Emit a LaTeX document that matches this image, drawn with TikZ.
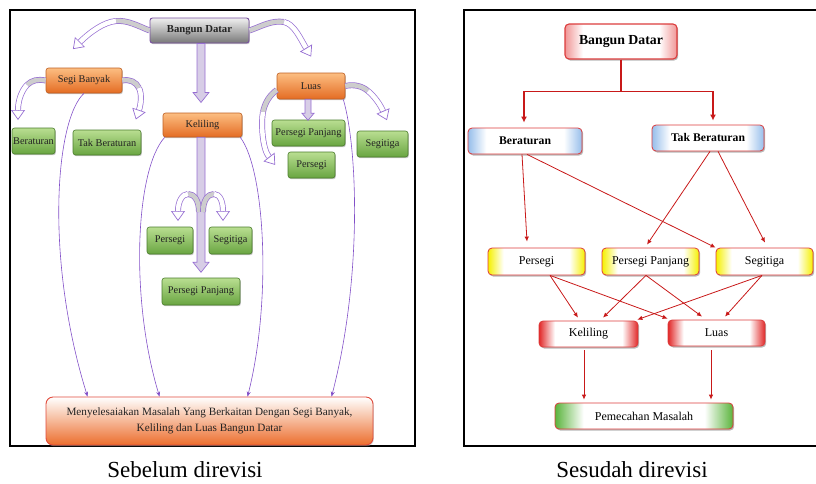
\documentclass[tikz,border=0pt]{standalone}
\usepackage{fontspec}
\setmainfont{Liberation Serif}
\usetikzlibrary{arrows.meta,calc,shadows}

\definecolor{vio}{RGB}{130,80,200}
\definecolor{ribc}{RGB}{150,110,210}
\definecolor{ribgc}{RGB}{205,205,205}
\definecolor{blkf}{RGB}{215,205,230}
\definecolor{greyT}{RGB}{240,240,240}
\definecolor{greyB}{RGB}{120,120,120}
\definecolor{bdbor}{RGB}{120,80,160}
\definecolor{orT}{RGB}{252,190,130}
\definecolor{orB}{RGB}{228,108,35}
\definecolor{orD}{RGB}{190,95,35}
\definecolor{grT}{RGB}{185,222,145}
\definecolor{grB}{RGB}{105,165,65}
\definecolor{grD}{RGB}{75,125,45}
\definecolor{botB}{RGB}{236,110,45}
\definecolor{botD}{RGB}{225,75,60}
\definecolor{rred}{RGB}{200,25,25}
\definecolor{rbor}{RGB}{220,60,60}
\definecolor{edY}{RGB}{245,240,0}
\definecolor{edR}{RGB}{225,40,40}
\definecolor{edB}{RGB}{150,190,235}
\definecolor{edG}{RGB}{90,180,60}
\definecolor{edP}{RGB}{240,150,150}
\definecolor{txt}{RGB}{35,35,35}

\pgfdeclarehorizontalshading{edgeY}{100bp}{color(0bp)=(edY); color(25bp)=(edY); color(33bp)=(white); color(67bp)=(white); color(75bp)=(edY); color(100bp)=(edY)}
\pgfdeclarehorizontalshading{edgeR}{100bp}{color(0bp)=(edR); color(25bp)=(edR); color(33bp)=(white); color(67bp)=(white); color(75bp)=(edR); color(100bp)=(edR)}
\pgfdeclarehorizontalshading{edgeB}{100bp}{color(0bp)=(edB); color(25bp)=(edB); color(33bp)=(white); color(67bp)=(white); color(75bp)=(edB); color(100bp)=(edB)}
\pgfdeclarehorizontalshading{edgeG}{100bp}{color(0bp)=(edG); color(25bp)=(edG); color(33bp)=(white); color(67bp)=(white); color(75bp)=(edG); color(100bp)=(edG)}
\pgfdeclarehorizontalshading{edgeP}{100bp}{color(0bp)=(edP); color(25bp)=(edP); color(33bp)=(white); color(67bp)=(white); color(75bp)=(edP); color(100bp)=(edP)}

\tikzset{
  frame/.style={draw=black, line width=1.6pt},
  lbox/.style={rounded corners=2.5pt, inner sep=0pt, align=center, text=txt,
    font=\fontsize{10.3}{12}\selectfont,
    drop shadow={shadow xshift=0.8pt, shadow yshift=-1.2pt, fill=black!45}},
  gbox/.style={lbox, draw=grD, line width=0.6pt, top color=grT, bottom color=grB},
  obox/.style={lbox, draw=orD, line width=0.6pt, top color=orT, bottom color=orB},
  greybox/.style={lbox, draw=bdbor, line width=0.9pt, top color=greyT, bottom color=greyB,
    font=\fontsize{10.7}{12}\selectfont\bfseries},
  botbox/.style={rounded corners=7pt, inner sep=0pt, align=center, text=txt,
    draw=botD, line width=0.9pt, top color=white, bottom color=botB,
    font=\fontsize{11.2}{16}\selectfont,
    drop shadow={shadow xshift=0.8pt, shadow yshift=-1.2pt, fill=black!35}},
  rbox/.style={rounded corners=4pt, inner sep=0pt, draw=rbor, line width=0.8pt,
    font=\fontsize{12}{14}\selectfont,
    drop shadow={shadow xshift=1.2pt, shadow yshift=-1.5pt, fill=black!55}},
  blk/.style={draw=ribc, line width=0.7pt, fill=blkf},
  rib/.style={draw=ribc, line width=0.7pt, double=white, double distance=4.5pt},
  ribgrey/.style={rib, double=ribgc},
  rtip/.style={draw=ribc, line width=0.7pt, -{Triangle[width=14pt,length=10pt,fill=white]}},
  varr/.style={draw=vio, line width=0.6pt, -{Stealth[length=5pt,width=4pt]}},
  rarr/.style={draw=rred, line width=0.8pt, -{Latex[length=5pt,width=4.5pt]}},
  rarrb/.style={draw=rred, line width=1.3pt, -{Latex[length=6pt,width=6pt]}},
  captext/.style={font=\fontsize{23}{26}\selectfont, inner sep=0pt}
}

\newcommand\ribbonarrow[7]{%
  \draw[ribgrey] #1 .. controls #2 and #3 .. #4;
  \draw[rib] #4 .. controls #5 and #6 .. #7;
  \draw[rtip] #7 -- ($#7!-10pt!#6$);
}

\begin{document}
\begin{tikzpicture}[x=1pt,y=-1pt]
\useasboundingbox (0,0) rectangle (816,483);
\draw[frame] (10,10) rectangle (415,446);
\draw[frame] (464,10) rectangle (830,446);

% ---------- left panel nodes ----------
\node[greybox, minimum width=99pt, minimum height=25pt] (lBD) at (199.5,30.5) {Bangun Datar};
\node[obox, minimum width=76pt, minimum height=25pt] (lSB) at (84,80.5) {Segi Banyak};
\node[obox, minimum width=68pt, minimum height=26pt] (lLuas) at (311,86) {Luas};
\node[obox, minimum width=79pt, minimum height=24pt] (lKel) at (202.5,125) {Keliling};
\node[gbox, minimum width=43pt, minimum height=26pt] (lBer) at (33.5,141) {Beraturan};
\node[gbox, minimum width=68pt, minimum height=25pt] (lTak) at (107,142.5) {Tak Beraturan};
\node[gbox, minimum width=73pt, minimum height=26pt] (lPP1) at (308.5,133) {Persegi Panjang};
\node[gbox, minimum width=51pt, minimum height=26pt] (lSeg1) at (382.5,144) {Segitiga};
\node[gbox, minimum width=47pt, minimum height=26pt] (lPer1) at (311.5,165) {Persegi};
\node[gbox, minimum width=46pt, minimum height=27pt] (lPer2) at (170,240.5) {Persegi};
\node[gbox, minimum width=43pt, minimum height=27pt] (lSeg2) at (230.5,240.5) {Segitiga};
\node[gbox, minimum width=78pt, minimum height=27pt] (lPP2) at (201,291.5) {Persegi Panjang};
\node[botbox, minimum width=327pt, minimum height=48pt] (lBot) at (209.5,421)
  {Menyelesaiakan Masalah Yang Berkaitan Dengan Segi Banyak,\\Keliling dan Luas Bangun Datar};

% ---------- left panel thin arrows ----------
\draw[varr] (lSB.south) .. controls (55,120) and (45,260) .. ($(lBot.north west)+(42,0)$);
\draw[varr] ($(lKel.south west)+(2,0)$) .. controls (135,170) and (130,300) .. ($(lBot.north west)+(114,0)$);
\draw[varr] ($(lKel.south east)+(-2,0)$) .. controls (265,170) and (272,300) .. ($(lBot.north west)+(202,0)$);
\draw[varr] ($(lLuas.south east)+(-2,0)$) .. controls (358,150) and (362,280) .. ($(lBot.north west)+(286,0)$);

% ---------- block arrows ----------
\draw[blk] ($(lBD.south)+(-2.5,0)$) -- ++(0,49) -- ++(-4,0) -- ++(8,10) -- ++(8,-10) -- ++(-4,0) -- ++(0,-49) -- cycle;
\draw[blk] ($(lKel.south)+(-5.5,0)$) -- ++(0,125) -- ++(-4,0) -- ++(8,10) -- ++(8,-10) -- ++(-4,0) -- ++(0,-125) -- cycle;
\draw[blk] ($(lLuas.south)+(-6,0)$) -- ++(0,14) -- ++(-3,0) -- ++(6,7) -- ++(6,-7) -- ++(-3,0) -- ++(0,-14) -- cycle;

% ---------- curved ribbon arrows ----------
\ribbonarrow{(lBD.west)}{(138,26)}{(128,20)}{(116,21)}{(104,22)}{(90,32)}{(80,42)}
\ribbonarrow{(lBD.east)}{(262,26)}{(272,20)}{(284,22)}{(294,24)}{(300,38)}{(306,48)}
\ribbonarrow{(lSB.west)}{(38,79)}{(32,80)}{(27,85)}{(22,90)}{(18,100)}{(18,110)}
\ribbonarrow{(lSB.east)}{(130,79)}{(136,82)}{(139,88)}{(142,94)}{(141,104)}{(139,110)}
\ribbonarrow{(lLuas.east)}{(354,84)}{(362,86)}{(368,91)}{(374,96)}{(380,104)}{(383,111)}
\ribbonarrow{($(lLuas.west)+(0,4)$)}{(270,95)}{(265,102)}{(263,112)}{(261,122)}{(262,148)}{(269,157)}
\ribbonarrow{(199,212)}{(199,200)}{(194,194)}{(188,194)}{(182,194)}{(178,202)}{(178,211)}
\ribbonarrow{(203,212)}{(203,200)}{(208,194)}{(214,194)}{(220,194)}{(223,202)}{(223,211)}

% ---------- right panel nodes ----------
\node[rbox, shading=edgeP, minimum width=112pt, minimum height=35pt, line width=1.1pt,
      font=\fontsize{13.8}{16}\selectfont\bfseries] (rBD) at (621,41.5) {Bangun Datar};
\node[rbox, shading=edgeB, minimum width=114pt, minimum height=26pt,
      font=\fontsize{11.7}{14}\selectfont\bfseries] (rBer) at (525,141) {Beraturan};
\node[rbox, shading=edgeB, minimum width=112pt, minimum height=26pt,
      font=\fontsize{11.7}{14}\selectfont\bfseries] (rTak) at (708,138) {Tak Beraturan};
\node[rbox, shading=edgeY, minimum width=97pt, minimum height=27pt] (rPer) at (536.5,261.5) {Persegi};
\node[rbox, shading=edgeY, minimum width=97pt, minimum height=27pt] (rPP) at (650.5,261.5) {Persegi Panjang};
\node[rbox, shading=edgeY, minimum width=97pt, minimum height=27pt] (rSeg) at (764.5,261.5) {Segitiga};
\node[rbox, shading=edgeR, minimum width=99pt, minimum height=26pt] (rKel) at (588.5,334) {Keliling};
\node[rbox, shading=edgeR, minimum width=97pt, minimum height=26pt] (rLuas) at (716.5,333) {Luas};
\node[rbox, shading=edgeG, minimum width=178pt, minimum height=26pt] (rPM) at (644,416) {Pemecahan Masalah};

% ---------- right panel connectors ----------
\draw[rarrb] (rBD.south) -- ++(0,32) -| ($(rBer.north)+(-1,-5)$);
\draw[rarrb] (rBD.south) -- ++(0,32) -| ($(rTak.north)+(5,-4)$);
\draw[rarr] ($(rBer.south)+(-3,0)$) -- ($(rPer.north)+(-9.5,-6)$);
\draw[rarr] ($(rBer.south)+(2,0)$) -- (rSeg.north west);
\draw[rarr] ($(rTak.south)+(2,0)$) -- ($(rPP.north)+(-3.5,-3)$);
\draw[rarr] ($(rTak.south)+(10,0)$) -- ($(rSeg.north)+(0.5,-5)$);
\draw[rarr] ($(rPer.south)+(13.5,0)$) -- ($(rKel.north)+(-10.5,-3)$);
\draw[rarr] ($(rPer.south)+(13.5,0)$) -- ($(rLuas.north west)+(0,-1)$);
\draw[rarr] ($(rPP.south)+(-4.5,0)$) -- ($(rKel.north)+(14.5,-3)$);
\draw[rarr] ($(rPP.south)+(-4.5,0)$) -- ($(rLuas.north)+(-14.5,-3)$);
\draw[rarr] ($(rSeg.south)+(-2.5,0)$) -- ($(rKel.north east)+(-1,-1)$);
\draw[rarr] ($(rSeg.south)+(-2.5,0)$) -- ($(rLuas.north)+(8.5,-3)$);
\draw[rarr] ($(rKel.south)+(-4.5,3)$) -- ($(rPM.north)+(-60,-3)$);
\draw[rarr] ($(rLuas.south)+(-5.5,4)$) -- ($(rPM.north)+(67,-3)$);

% ---------- captions ----------
\node[captext] (capL) at (185,470) {Sebelum direvisi};
\node[captext] (capR) at (632,470) {Sesudah direvisi};
\end{tikzpicture}
\end{document}
